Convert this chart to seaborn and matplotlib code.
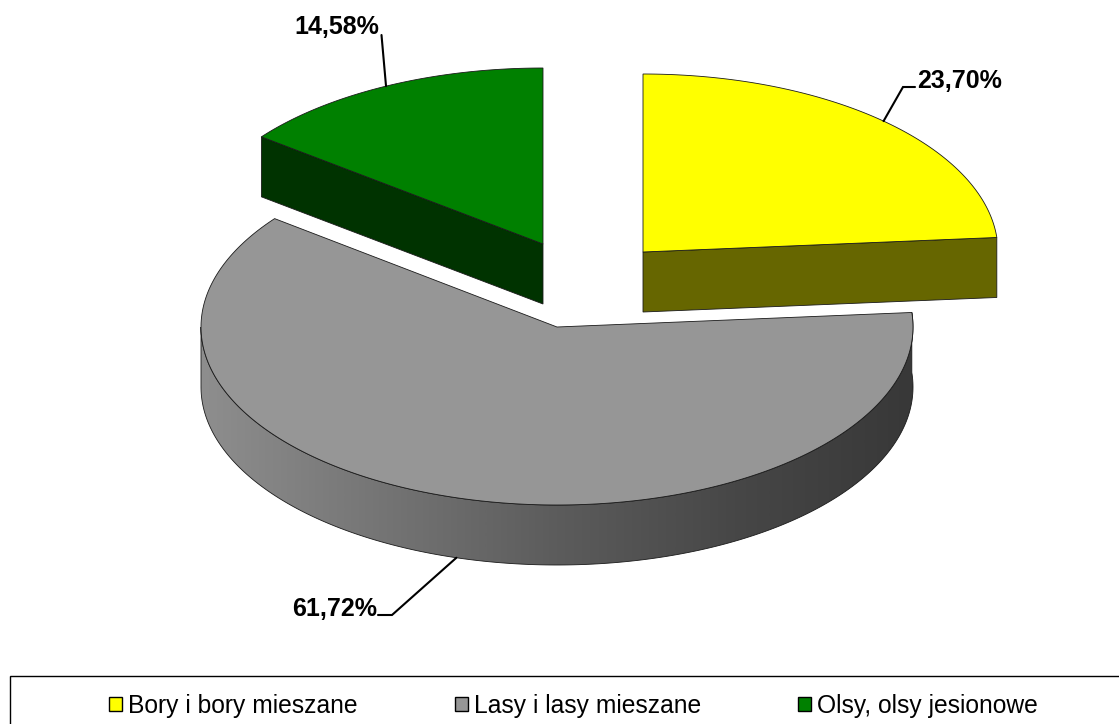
import numpy as np
import matplotlib
matplotlib.use("Agg")
import matplotlib.pyplot as plt
from matplotlib.patches import Polygon, Patch, Rectangle
from matplotlib.colors import LinearSegmentedColormap
import seaborn as sns

# --- data ---
categories = ["Bory i bory mieszane", "Lasy i lasy mieszane", "Olsy, olsy jesionowe"]
shares = [23.70, 61.72, 14.58]

# --- styles / layout (pixels of the 1119x724 canvas) ---
top_colors = sns.color_palette(["#FFFF00", "#969696", "#008000"])
side_colors = sns.color_palette(["#666600", "#606060", "#003300"])
centers = [(643, 252), (557, 327), (543, 244)]
radii_x = [355, 356, 355]
radii_y = [178, 178, 176]
DEPTH = 60
EDGE = "#1a1a1a"
label_pos = [(917, 81, "left"), (377, 609, "right"), (379, 27, "right")]
elbows = [[(915, 87), (903, 87)], [(378, 615), (392, 615)], [(381.5, 35)]]

sns.set_theme(style="white")
plt.rcParams["font.family"] = ["Liberation Sans", "DejaVu Sans"]

fig = plt.figure(figsize=(11.19, 7.24), dpi=100)
ax = fig.add_axes([0, 0, 1, 1])
ax.set_xlim(0, 1119)
ax.set_ylim(724, 0)
ax.axis("off")


def rim(i, a0, a1, dy=0.0, n=240):
    c = centers[i]
    t = np.radians(np.linspace(a0, a1, n))
    return np.column_stack([c[0] + radii_x[i] * np.sin(t),
                            c[1] + dy - radii_y[i] * np.cos(t)])


# slice angles, clockwise from twelve o'clock
ends = np.cumsum(shares) / np.sum(shares) * 360
starts = np.r_[0, ends[:-1]]

# --- gray slice: shaded outer wall first ---
c = centers[1]
wall_a0, wall_a1 = starts[1], min(ends[1], 270)
wall = np.vstack([rim(1, wall_a0, wall_a1), rim(1, wall_a1, wall_a0, DEPTH)])
wall_patch = Polygon(wall, closed=True, fc="none", ec=EDGE, lw=0.6, zorder=2)
ax.add_patch(wall_patch)
shade = LinearSegmentedColormap.from_list(
    "wall", ["#8e8e8e", "#757575", "#5c5c5c", "#474747", "#383838"])
img = ax.imshow(np.linspace(0, 1, 512)[None, :], cmap=shade, aspect="auto",
                extent=(c[0] - radii_x[1], c[0] + radii_x[1], 724, 0), zorder=1)
img.set_clip_path(wall_patch)
ax.set_xlim(0, 1119)
ax.set_ylim(724, 0)

# --- tops and cut faces ---
for i, name in enumerate(categories):
    c = centers[i]
    if i != 1:
        face_angle = ends[0] if i == 0 else starts[2]
        e = rim(i, face_angle, face_angle, n=1)[0]
        ax.add_patch(Polygon([c, e, (e[0], e[1] + DEPTH), (c[0], c[1] + DEPTH)],
                             closed=True, fc=side_colors[i], ec=EDGE, lw=0.6, zorder=3))
    top = np.vstack([[c], rim(i, starts[i], ends[i])])
    ax.add_patch(Polygon(top, closed=True, fc=top_colors[i], ec=EDGE, lw=0.6, zorder=4))

# --- value labels with leader lines that start at each slice's mid angle ---
for i, v in enumerate(shares):
    mid = (starts[i] + ends[i]) / 2
    dy = DEPTH if 90 < mid < 270 else 0
    p = rim(i, mid, mid, dy, n=1)[0]
    pts = np.array(elbows[i] + [tuple(p)])
    ax.plot(pts[:, 0], pts[:, 1], color="black", lw=1.5, zorder=5,
            solid_joinstyle="miter")
    x, y, ha = label_pos[i]
    ax.text(x, y, f"{v:.2f}%".replace(".", ","), ha=ha, va="center",
            fontsize=18, fontweight="bold", color="black", zorder=6)

# --- legend box (runs off the canvas at right and bottom) ---
ax.add_patch(Rectangle((9.5, 675.5), 1200, 100, fc="white", ec="black", lw=1.0,
                       zorder=6, clip_on=True))
handles = [Patch(fc=top_colors[i], ec="black", lw=1.0, label=categories[i])
           for i in range(3)]
leg = ax.legend(handles=handles, ncol=3, frameon=False, fontsize=17.7,
                loc="upper left", bbox_to_anchor=(109, 693.5),
                bbox_transform=ax.transData, borderpad=0, borderaxespad=0,
                handlelength=0.53, handleheight=0.53, handletextpad=0.25,
                columnspacing=3.95)
leg.set_zorder(7)
for t in leg.get_texts():
    t.set_color("black")

fig.savefig("out.png", dpi=100)
